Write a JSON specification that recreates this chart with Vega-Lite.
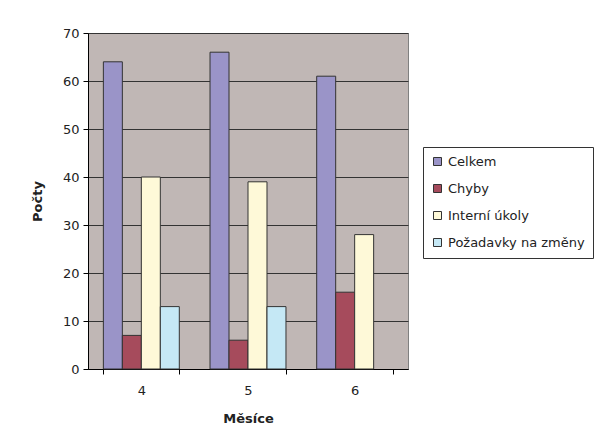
{
  "$schema": "https://vega.github.io/schema/vega-lite/v6.json",
  "width": 320,
  "height": 336,
  "autosize": {"type": "none"},
  "padding": {"left": 88, "top": 33, "right": 186, "bottom": 74},
  "background": "white",
  "data": {
    "values": [
      {"mesic": "4", "serie": "Celkem", "pocet": 64},
      {"mesic": "4", "serie": "Chyby", "pocet": 7},
      {"mesic": "4", "serie": "Interní úkoly", "pocet": 40},
      {"mesic": "4", "serie": "Požadavky na změny", "pocet": 13},
      {"mesic": "5", "serie": "Celkem", "pocet": 66},
      {"mesic": "5", "serie": "Chyby", "pocet": 6},
      {"mesic": "5", "serie": "Interní úkoly", "pocet": 39},
      {"mesic": "5", "serie": "Požadavky na změny", "pocet": 13},
      {"mesic": "6", "serie": "Celkem", "pocet": 61},
      {"mesic": "6", "serie": "Chyby", "pocet": 16},
      {"mesic": "6", "serie": "Interní úkoly", "pocet": 28}
    ]
  },
  "mark": {"type": "bar", "stroke": "#333333", "strokeWidth": 1},
  "encoding": {
    "x": {
      "field": "mesic",
      "type": "nominal",
      "scale": {"paddingInner": 0.288, "paddingOuter": 0.144},
      "axis": {
        "title": "Měsíce",
        "labelAngle": 0,
        "tickBand": "extent",
        "grid": false,
        "domainColor": "#000000",
        "tickColor": "#000000",
        "tickSize": 5,
        "labelPadding": 10,
        "titlePadding": 15,
        "labelFont": "DejaVu Sans",
        "labelFontSize": 13,
        "labelColor": "#222222",
        "titleFont": "DejaVu Sans",
        "titleFontSize": 13,
        "titleFontWeight": "bold",
        "titleColor": "#222222"
      }
    },
    "xOffset": {"field": "serie", "type": "nominal", "sort": ["Celkem", "Chyby", "Interní úkoly", "Požadavky na změny"]},
    "y": {
      "field": "pocet",
      "type": "quantitative",
      "scale": {"domain": [0, 70], "nice": false},
      "axis": {
        "title": "Počty",
        "values": [0, 10, 20, 30, 40, 50, 60, 70],
        "grid": true,
        "gridColor": "#333333",
        "gridWidth": 1,
        "domainColor": "#000000",
        "tickColor": "#000000",
        "tickSize": 5,
        "labelPadding": 4,
        "titlePadding": 18,
        "labelFont": "DejaVu Sans",
        "labelFontSize": 13,
        "labelColor": "#222222",
        "titleFont": "DejaVu Sans",
        "titleFontSize": 13,
        "titleFontWeight": "bold",
        "titleColor": "#222222"
      }
    },
    "color": {
      "field": "serie",
      "type": "nominal",
      "sort": ["Celkem", "Chyby", "Interní úkoly", "Požadavky na změny"],
      "scale": {
        "domain": ["Celkem", "Chyby", "Interní úkoly", "Požadavky na změny"],
        "range": ["#9A94C8", "#A64B5C", "#FEF9D8", "#C5E8F5"]
      },
      "legend": {
        "title": null,
        "orient": "none",
        "legendX": 335,
        "legendY": 114,
        "strokeColor": "#333333",
        "padding": 8,
        "symbolType": "square",
        "symbolSize": 64,
        "symbolStrokeColor": "#333333",
        "symbolStrokeWidth": 1,
        "symbolOpacity": 1,
        "labelFont": "DejaVu Sans",
        "labelFontSize": 13,
        "labelColor": "#222222",
        "rowPadding": 13,
        "labelLimit": 300
      }
    }
  },
  "config": {
    "view": {"fill": "#C0B7B5", "stroke": "#808080", "strokeWidth": 1}
  }
}
